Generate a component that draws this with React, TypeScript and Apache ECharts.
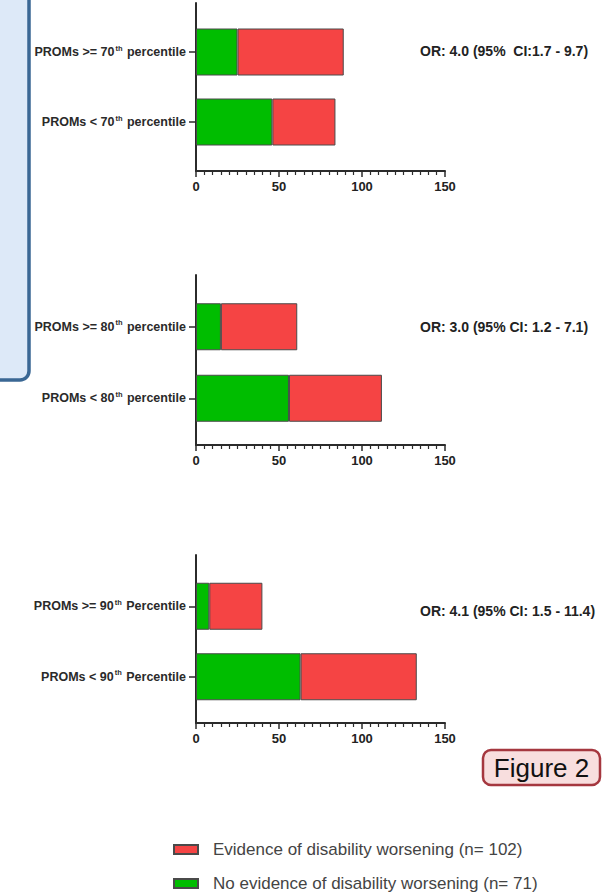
import React, { useEffect, useRef } from "react";
import * as echarts from "echarts";

const seriesNames = [
  "No evidence of disability worsening (n= 71)",
  "Evidence of disability worsening (n= 102)",
];

const categories1 = ["PROMs >= 70th percentile", "PROMs < 70th percentile"];
const noWorsening1 = [25, 46];
const worsening1 = [64, 38];
const orText1 = "OR: 4.0 (95%  CI:1.7 - 9.7)";

const categories2 = ["PROMs >= 80th percentile", "PROMs < 80th percentile"];
const noWorsening2 = [15, 56];
const worsening2 = [46, 56];
const orText2 = "OR: 3.0 (95% CI: 1.2 - 7.1)";

const categories3 = ["PROMs >= 90th Percentile", "PROMs < 90th Percentile"];
const noWorsening3 = [8, 63];
const worsening3 = [32, 70];
const orText3 = "OR: 4.1 (95% CI: 1.5 - 11.4)";

const xTicks = [0, 50, 100, 150];
const figureLabel = "Figure 2";

const panels = [
  { cats: categories1, green: noWorsening1, red: worsening1, or: orText1 },
  { cats: categories2, green: noWorsening2, red: worsening2, or: orText2 },
  { cats: categories3, green: noWorsening3, red: worsening3, or: orText3 },
];

// layout (pixels)
const layout = [
  { outerTop: 3, outerH: 168, innerTop: 17, innerH: 140, orY: 52 },
  { outerTop: 275, outerH: 170, innerTop: 291, innerH: 143, orY: 328 },
  { outerTop: 555, outerH: 168, innerTop: 571, innerH: 141, orY: 612 },
];

const FONT = "'Liberation Sans', Arial, Helvetica, sans-serif";
const AXIS = "#2b2b2b";
const GREEN = "#00bd00";
const RED = "#f54444";

function richLabel(s: string) {
  const m = s.match(/^(.*?\d+)(th)(.*)$/);
  if (!m) return `{a|${s}}`;
  return `{a|${m[1]}}{s|${m[2]}}{a|${m[3]}}`;
}

export default function App() {
  const ref = useRef<HTMLDivElement>(null);
  useEffect(() => {
    if (!ref.current) return;
    const chart = echarts.init(ref.current, null, { renderer: "svg" });
    const grids: any[] = [];
    const xAxes: any[] = [];
    const yAxes: any[] = [];
    const series: any[] = [];
    const graphics: any[] = [];
    const gridLeft = 196;
    const gridWidth = 249;

    panels.forEach((p, i) => {
      const L = layout[i];
      const outer = 2 * i;
      const inner = 2 * i + 1;
      grids.push({ left: gridLeft, width: gridWidth, top: L.outerTop, height: L.outerH });
      grids.push({ left: gridLeft, width: gridWidth, top: L.innerTop, height: L.innerH });
      xAxes.push({
        type: "value",
        gridIndex: outer,
        min: xTicks[0],
        max: xTicks[xTicks.length - 1],
        interval: xTicks[1] - xTicks[0],
        axisLine: { show: true, lineStyle: { color: AXIS, width: 2 } },
        axisTick: { show: true, length: 6, lineStyle: { color: AXIS, width: 1.5 } },
        minorTick: { show: true, splitNumber: 10, length: 4, lineStyle: { color: AXIS, width: 1.2 } },
        splitLine: { show: false },
        axisLabel: {
          show: true,
          margin: 9,
          color: "#222",
          fontFamily: FONT,
          fontWeight: "bold",
          fontSize: 13,
        },
      });
      xAxes.push({
        type: "value",
        gridIndex: inner,
        min: xTicks[0],
        max: xTicks[xTicks.length - 1],
        show: false,
      });
      yAxes.push({
        type: "value",
        gridIndex: outer,
        min: 0,
        max: 1,
        axisLine: { show: true, lineStyle: { color: AXIS, width: 2 } },
        axisTick: { show: false },
        axisLabel: { show: false },
        splitLine: { show: false },
      });
      yAxes.push({
        type: "category",
        gridIndex: inner,
        inverse: true,
        data: p.cats,
        axisLine: { show: false },
        axisTick: { show: true, alignWithLabel: true, length: 7, lineStyle: { color: AXIS, width: 1.5 } },
        axisLabel: {
          margin: 10,
          formatter: (v: string) => richLabel(v),
          rich: {
            a: { fontFamily: FONT, fontWeight: "bold", fontSize: 12.5, color: "#2a2a2a", lineHeight: 16 },
            s: { fontFamily: FONT, fontWeight: "bold", fontSize: 7.5, color: "#2a2a2a", lineHeight: 16, verticalAlign: "top", padding: [0, 1, 0, 1] },
          },
        },
      });
      series.push({
        type: "bar",
        name: seriesNames[0],
        xAxisIndex: inner,
        yAxisIndex: inner,
        stack: "s" + i,
        data: p.green,
        barWidth: 47,
        itemStyle: { color: GREEN, borderColor: "#4a4a4a", borderWidth: 1 },
      });
      series.push({
        type: "bar",
        name: seriesNames[1],
        xAxisIndex: inner,
        yAxisIndex: inner,
        stack: "s" + i,
        data: p.red,
        barWidth: 47,
        itemStyle: { color: RED, borderColor: "#4a4a4a", borderWidth: 1 },
      });
      graphics.push({
        type: "text",
        left: 420,
        top: L.orY - 8,
        style: { text: p.or, fontFamily: FONT, fontWeight: "bold", fontSize: 14, fill: "#222" },
      });
    });

    // left blue panel
    graphics.unshift({
      type: "rect",
      shape: { x: -20, y: -20, width: 49, height: 400, r: 9 },
      style: { fill: "#dde9f8", stroke: "#3a6794", lineWidth: 3.5 },
    });
    // Figure badge
    graphics.push({
      type: "rect",
      shape: { x: 483, y: 750, width: 117, height: 35, r: 8 },
      style: { fill: "#f8dede", stroke: "#a5373f", lineWidth: 2.5 },
    });
    graphics.push({
      type: "text",
      x: 541.5,
      y: 768,
      style: {
        text: figureLabel,
        fontFamily: FONT,
        fontSize: 26,
        fill: "#111",
        align: "center",
        verticalAlign: "middle",
      },
    });

    const legendBase = {
      orient: "vertical",
      left: 173,
      icon: "rect",
      itemWidth: 24,
      itemHeight: 9,
      padding: 0,
      selectedMode: false,
      textStyle: {
        fontFamily: FONT,
        fontSize: 17,
        color: "#444",
        padding: [0, 0, 0, 10],
      },
    };

    chart.setOption({
      animation: false,
      backgroundColor: "#ffffff",
      grid: grids,
      xAxis: xAxes,
      yAxis: yAxes,
      series,
      graphic: graphics,
      legend: [
        { ...legendBase, data: [seriesNames[1]], top: 841 },
        { ...legendBase, data: [seriesNames[0]], top: 875 },
      ],
    });
    return () => chart.dispose();
  }, []);
  return (
    <div
      ref={ref}
      style={{ position: "absolute", left: 0, top: 0, width: 605, height: 892 }}
    />
  );
}
